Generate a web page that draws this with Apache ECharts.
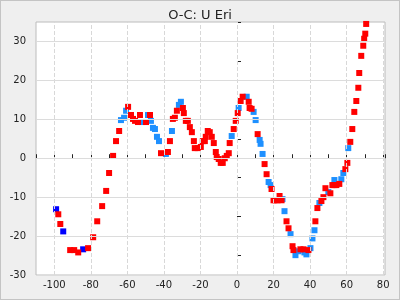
<!DOCTYPE html>
<html>
<head>
<meta charset="utf-8">
<script src="https://cdn.jsdelivr.net/npm/echarts@6/dist/echarts.min.js"></script>
<style>
html,body{margin:0;padding:0;background:#efefef;}
#c{width:400px;height:300px;box-sizing:border-box;border:1px solid #c4c4c4;}
</style>
</head>
<body>
<div id="c"></div>
<script>
const title = 'O-C: U Eri';
const xGridLines = [-100, -80, -60, -40, -20, 0, 20, 40, 60, 80];
const yGridLines = [-30, -20, -10, 0, 10, 20, 30];

const redPoints = [
[-97.8,-14.4],[-96.7,-16.9],[-91.3,-23.6],[-89.1,-23.6],[-86.9,-24.2],[-81.5,-23.1],
[-78.7,-20.3],[-76.5,-16.2],[-73.8,-12.3],[-71.6,-8.4],[-70,-3.8],[-67.8,0.6],
[-66.2,4.4],[-64.5,7.0],[-59.6,13.2],[-58,11.1],[-56.9,10.1],[-55.8,9.6],[-54.2,9.3],
[-53.1,11.1],[-49.8,9.3],[-47.6,11.1],[-41.6,1.3],[-37.8,1.6],[-36.7,4.4],[-35.1,10.1],
[-34,10.4],[-32.9,12.2],[-29.6,12.9],[-29.1,11.6],[-28,9.6],[-26.9,9.6],[-25.8,8.0],
[-24.7,6.7],[-23.6,4.4],[-23.1,2.6],[-21.5,2.6],[-19.8,2.9],[-18.7,4.4],[-17.6,4.4],
[-17.1,5.5],[-16,7.0],[-14.9,6.7],[-13.8,5.5],[-12.7,3.9],[-11.6,1.6],[-11.1,0.3],
[-10,-0.2],[-8.9,-1.2],[-7.8,-1.2],[-6.7,0],[-5.6,0.6],[-4.5,1.3],[-4,3.9],[-1.8,7.5],
[-0.7,9.6],[0.4,11.6],[2,14.7],[3.1,15.8],[6.4,14.5],[6.9,12.9],[8,12.7],[11.3,6.2],
[15.1,-1.5],[16.2,-4.1],[18.9,-7.9],[20,-10.8],[21.1,-10.8],[22.2,-10.8],[23.3,-9.7],
[24.4,-10.8],[27.1,-16.2],[28.2,-18.0],[30.4,-22.6],[30.9,-23.6],[34.7,-23.4],[36.4,-23.4],
[39.1,-23.6],[42.9,-16.2],[44,-12.8],[46.2,-11],[47.3,-10],[48.4,-7.7],[51.1,-9.0],
[52.2,-6.9],[53.3,-6.9],[54.4,-6.9],[56,-6.6],[59.3,-2.8],[60.4,-1.2],[62,4.2],[63.1,7.5],
[64.2,11.9],[65.3,14.7],[66.4,18.1],[66.9,21.9],[68,26.3],[69.1,28.9],[69.6,30.7],
[70.2,32],[70.7,34.5]
];
const lightBluePoints = [
[-63.5,9.8],[-61.8,10.4],[-60.7,12.2],[-52,9.3],[-48.7,11.1],[-47.1,9.6],[-46,7.8],
[-44.9,7.5],[-43.8,5.5],[-42.7,4.4],[-38.9,1.1],[-35.6,7.0],[-31.8,13.7],[-30.7,14.5],
[-2.9,5.7],[0.9,12.9],[5.3,15.8],[9.1,11.9],[10.2,9.8],[12.4,4.7],[12.9,3.7],[14,1.1],
[17.3,-6.1],[18.4,-6.9],[24.9,-10.5],[26,-13.6],[29.3,-19.5],[32,-24.9],[33.6,-23.9],
[36.9,-24.2],[38,-24.7],[40.2,-23.1],[41.3,-20.6],[42.4,-18.5],[45.1,-11.5],[50,-8.7],
[53.3,-5.6],[57.1,-5.4],[58.2,-3.8],[60.9,2.6]
];
const darkBluePoints = [[-99,-13.1],[-95.1,-18.8],[-84.2,-23.4]];

const chart = echarts.init(document.getElementById('c'), null, {renderer:'canvas'});
const font = 'DejaVu Sans';
const gridLineData = xGridLines.map(v => ({xAxis: v, lineStyle:{type:'dashed', color:'#d8d8d8', width:1}}))
  .concat(yGridLines.map(v => ({yAxis: v, lineStyle:{type:'solid', color:'#dcdcdc', width:1}})));

chart.setOption({
  animation: false,
  backgroundColor: '#efefef',
  title: {text: title, left: 'center', top: 3,
    textStyle:{fontFamily: font, fontSize: 13, fontWeight:'normal', color:'#222'}},
  grid: {left: 35, top: 21, right: 14, bottom: 24, show: true,
    backgroundColor:'#fff', borderColor:'#bcbcbc', borderWidth:1},
  xAxis: {type:'value', min:-110, max:81, interval:10,
    axisLine:{show:false},
    axisTick:{show:true, inside:true, length:4, lineStyle:{color:'#222'}},
    axisLabel:{margin:5, fontFamily:font, fontSize:10, color:'#222',
      formatter: v => (v % 20 === 0 && v >= -100 && v <= 80) ? String(v) : ''},
    splitLine:{show:false}},
  yAxis: {type:'value', min:-30, max:35, interval:5,
    axisLine:{show:false},
    axisTick:{show:true, inside:true, length:4, lineStyle:{color:'#222'}},
    axisLabel:{margin:10, fontFamily:font, fontSize:10, color:'#222',
      formatter: v => (v % 10 === 0 && v <= 30) ? String(v) : ''},
    splitLine:{show:false}},
  series: [
    {type:'scatter', data:[], z:1, silent:true,
      markLine:{silent:true, symbol:['none','none'], label:{show:false}, animation:false,
        data: gridLineData}},
    {type:'scatter', data: lightBluePoints, symbol:'rect', symbolSize:6,
      itemStyle:{color:'#1e90ff', opacity:1}, z:2},
    {type:'scatter', data: darkBluePoints, symbol:'rect', symbolSize:6,
      itemStyle:{color:'#0000ff', opacity:1}, z:3},
    {type:'scatter', data: redPoints, symbol:'rect', symbolSize:6,
      itemStyle:{color:'#ff0000', opacity:1}, z:4}
  ]
});
</script>
</body>
</html>
